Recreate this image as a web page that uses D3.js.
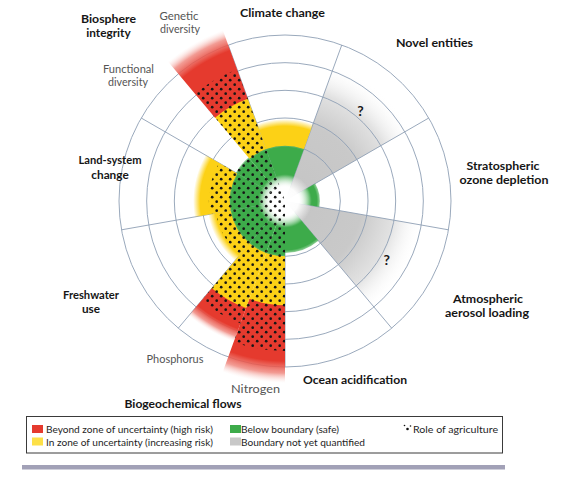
<!DOCTYPE html>
<html><head><meta charset="utf-8">
<script src="https://cdn.jsdelivr.net/npm/d3@7"></script>
<style>body{margin:0;background:#fff} svg{display:block}</style>
</head><body>
<svg id="c" width="571" height="483"></svg>
<script>
// ---- data (values in ring units: boundary ring = 2, outer ring = 6) ----
const sectorNames = ["Climate change","Novel entities","Stratospheric ozone depletion","Atmospheric aerosol loading","Ocean acidification","Nitrogen","Phosphorus","Freshwater use","Land-system change","Functional diversity","Genetic diversity"];
const startDeg  = [-20, 20, 60, 100, 140, 180, 200, 220, 260, 300, 320];
const endDeg    = [ 20, 60, 100, 140, 180, 200, 220, 260, 300, 320, 340];
const greenEnd  = [2.05, 0, 1.26, 0, 1.88, 2.05, 2.05, 2.05, 2.05, 2.05, 2.05];
const yellowEnd = [2.96, 0, 0, 0, 0, 3.8, 4.15, 2.82, 3.32, 0, 3.97];
const redEnd    = [0, 0, 0, 0, 0, 6.58, 5.42, 0, 0, 0, 6.58];
const grayEnd   = [0, 5.25, 0, 5.05, 0, 0, 0, 0, 0, 0, 0];
const agriEnd   = [0, 0, 0, 0, 0, 5.42, 4.7, 2.53, 2.75, 2.05, 5.06];
const ringValues = [2, 3, 4, 5, 6];
const spokeDeg = [20, 60, 100, 140, 180, 220, 260, 300, 340];

const labelText = ["Climate change","Novel entities","Stratospheric","ozone depletion","Atmospheric","aerosol loading","Ocean acidification","Biogeochemical flows","Freshwater","use","Land-system","change","Biosphere","integrity"];
const subLabelText = ["Genetic","diversity","Functional","diversity","Phosphorus","Nitrogen"];
const legendText = ["Beyond zone of uncertainty (high risk)","In zone of uncertainty (increasing risk)","Below boundary (safe)","Boundary not yet quantified","Role of agriculture"];

// ---- style ----
const cx = 285, cy = 201;
const C = {red:"#e53a2e", yellow:"#fcd116", green:"#3dab4a", gray:"#bdbdbd", ring:"#8f9fb4"};
const deg = Math.PI/180;
const R = d3.scaleLinear().domain([0,6]).range([0,166]);

const svg = d3.select("#c");
const defs = svg.append("defs");
const g = svg.append("g").attr("transform",`translate(${cx},${cy})`);
const arc = d3.arc();
function arcPath(i, r0, r1){ return arc({innerRadius:r0, outerRadius:r1, startAngle:startDeg[i]*deg, endAngle:endDeg[i]*deg}); }

let gid = 0;
function radGrad(rmax, stops){
  const id = "gr"+(gid++);
  const gr = defs.append("radialGradient").attr("id",id).attr("gradientUnits","userSpaceOnUse")
    .attr("cx",0).attr("cy",0).attr("r",rmax);
  stops.forEach(s=>gr.append("stop").attr("offset",Math.max(0,Math.min(1,s[0]))).attr("stop-color",s[1]).attr("stop-opacity",s[2]));
  return `url(#${id})`;
}

// gray wedges
sectorNames.forEach((n,i)=>{
  if(!grayEnd[i]) return;
  const r1 = R(grayEnd[i]);
  g.append("path").attr("d",arcPath(i,0,r1))
   .attr("fill",radGrad(r1,[[0,"#c4c4c4",1],[0.55,"#c9c9c9",1],[0.78,"#dcdcdc",0.85],[1,"#ffffff",0]]));
});

// rings and spokes (under coloured fills)
g.selectAll(".ring").data(ringValues).join("circle").attr("r",d=>R(d))
  .attr("fill","none").attr("stroke",C.ring).attr("stroke-width",0.9);
g.selectAll(".spoke").data(spokeDeg).join("line")
  .attr("x1",0).attr("y1",0)
  .attr("x2",d=>R(6)*Math.sin(d*deg)).attr("y2",d=>-R(6)*Math.cos(d*deg))
  .attr("stroke",C.ring).attr("stroke-width",0.9);

// coloured fills
const clip = defs.append("clipPath").attr("id","colclip");
sectorNames.forEach((n,i)=>{
  if(greenEnd[i]){
    const r1 = R(greenEnd[i]);
    g.append("path").attr("d",arcPath(i,0,r1))
     .attr("fill",radGrad(r1,[[0,"#ffffff",1],[14/r1,"#ffffff",1],[26/r1,C.green,1],[(r1-3)/r1,C.green,1],[1,C.green,0.55]]));
  }
  if(yellowEnd[i]){
    const r0 = R(greenEnd[i]), r1 = R(yellowEnd[i]);
    const fade = redEnd[i] ? 2 : 7;
    g.append("path").attr("d",arcPath(i,r0-1.5,r1))
     .attr("fill",radGrad(r1,[[0,C.yellow,1],[(r1-fade)/r1,C.yellow,1],[1,C.yellow,redEnd[i]?1:0]]));
    clip.append("path").attr("d",arcPath(i,r0,r1)).attr("transform",`translate(${cx},${cy})`);
  }
  if(redEnd[i]){
    const r0 = R(yellowEnd[i]), r1 = R(redEnd[i]);
    const fade = r1 > 170 ? 22 : 14;
    g.append("path").attr("d",arcPath(i,r0-1,r1))
     .attr("fill",radGrad(r1,[[0,C.red,1],[(r1-fade)/r1,C.red,1],[(r1-fade*0.45)/r1,"#ee7a70",0.75],[1,"#fbe0dc",0]]));
    clip.append("path").attr("d",arcPath(i,r0,r1)).attr("transform",`translate(${cx},${cy})`);
  }
});

// white centre glow
g.append("circle").attr("r",27)
 .attr("fill",radGrad(27,[[0,"#ffffff",1],[0.5,"#ffffff",0.95],[1,"#ffffff",0]]));

// agriculture dots
const pat = defs.append("pattern").attr("id","dots").attr("patternUnits","userSpaceOnUse")
  .attr("width",9).attr("height",9).attr("x",cx).attr("y",cy);
pat.append("circle").attr("cx",2.2).attr("cy",2.2).attr("r",1.35).attr("fill","#151515");
pat.append("circle").attr("cx",6.7).attr("cy",6.7).attr("r",1.35).attr("fill","#151515");
sectorNames.forEach((n,i)=>{
  if(!agriEnd[i]) return;
  svg.append("path").attr("transform",`translate(${cx},${cy})`)
    .attr("d",arcPath(i,0,R(agriEnd[i]))).attr("fill","url(#dots)");
});

// light ring lines over coloured fills
svg.append("g").attr("clip-path","url(#colclip)").attr("transform",`translate(${cx},${cy})`)
  .selectAll("circle").data(ringValues.slice(1)).join("circle").attr("r",d=>R(d))
  .attr("fill","none").attr("stroke","#ffffff").attr("stroke-opacity",0.5).attr("stroke-width",1);

// question marks in unquantified sectors
sectorNames.forEach((n,i)=>{
  if(!grayEnd[i]) return;
  const a = (startDeg[i]+endDeg[i])/2*deg, rr = R(4.25);
  svg.append("text").attr("x",cx+rr*Math.sin(a)).attr("y",cy-rr*Math.cos(a)+5)
    .attr("text-anchor","middle").attr("font-family","Lato, 'Open Sans', sans-serif")
    .attr("font-weight",700).attr("font-size",14).attr("fill","#1a1a1a").text("?");
});

// labels
const FONT = "Lato, 'Open Sans', 'DejaVu Sans', sans-serif";
function txt(t, x, y, o){
  const e = svg.append("text").attr("x",x).attr("y",y).attr("text-anchor",o.anchor||"middle")
    .attr("font-family",FONT).attr("font-size",o.size||12).attr("font-weight",o.bold?700:400)
    .attr("fill",o.fill||"#161616").text(t);
  if(o.w) e.attr("textLength",o.w).attr("lengthAdjust","spacingAndGlyphs");
  return e;
}
const L = labelText;
const bpos = [[282.5,17,85],[434.5,47,77],[503,170,73],[504,184,89],[488,302.5,70],[487,316.5,84],[355,384,104],[183,408,117],[91,299,56],[91,313,0],[110,164,63],[110,178.5,0],[108.5,23,55],[108.5,37,0]];
L.forEach((t,k)=>txt(t,bpos[k][0],bpos[k][1],{bold:true,size:11.8,w:bpos[k][2]||null}));
const spos = [[179,19.5,39],[180,33,40],[128.5,72.5,51],[128,86,40],[175,363,57],[255.5,392.5,49]];
subLabelText.forEach((t,k)=>txt(t,spos[k][0],spos[k][1],{size:11.6,fill:"#555555",w:spos[k][2]}));

// legend
svg.append("rect").attr("x",26.5).attr("y",416.5).attr("width",476).attr("height",36.5)
  .attr("fill","#fff").attr("stroke","#3a3a3a").attr("stroke-width",1);
const legColors = [C.red, "#fde047", C.green, "#c8c8c8"];
const legPos = [[32,425,46,433,167],[32,437.5,46,445.5,167],[230,425,241,433,98],[230,437.5,241,445.5,124]];
legColors.forEach((c,k)=>{
  svg.append("rect").attr("x",legPos[k][0]).attr("y",legPos[k][1]).attr("width",11).attr("height",8).attr("fill",c);
  txt(legendText[k],legPos[k][2],legPos[k][3],{anchor:"start",size:10.4,fill:"#1e1e1e",w:legPos[k][4]});
});
[[404.5,425.5,0.8],[407.5,429,1.3],[410.5,426,0.8]].forEach(d=>svg.append("circle").attr("cx",d[0]).attr("cy",d[1]).attr("r",d[2]).attr("fill","#111"));
txt(legendText[4],413,433,{anchor:"start",size:10.4,fill:"#1e1e1e",w:85});

// bottom bar
svg.append("rect").attr("x",22).attr("y",465).attr("width",483).attr("height",4.5).attr("fill","#a2a1b7");
</script>
</body></html>
